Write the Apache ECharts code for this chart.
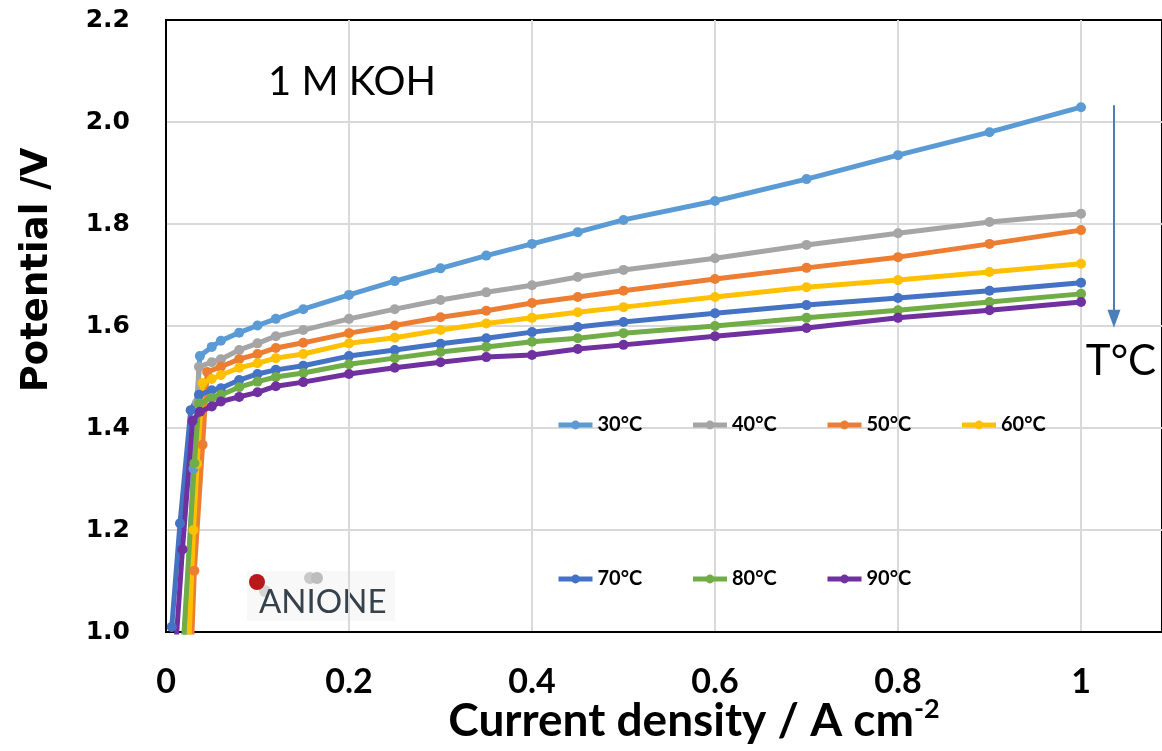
<!DOCTYPE html>
<html><head><meta charset="utf-8">
<script src="https://cdn.jsdelivr.net/npm/echarts@6/dist/echarts.min.js"></script>
<style>html,body{margin:0;padding:0;background:#fff}#c{width:1162px;height:751px}</style>
</head><body><div id="c"></div>
<script>
const seriesNames = ['30°C', '40°C', '50°C', '60°C', '70°C', '80°C', '90°C'];
const seriesColors = ['#5B9BD5', '#A5A5A5', '#ED7D31', '#FFC000', '#4472C4', '#70AD47', '#7030A0'];
const xTicks = ['0', '0.2', '0.4', '0.6', '0.8', '1'];
const yTicks = ['1.0', '1.2', '1.4', '1.6', '1.8', '2.0', '2.2'];

// [current density (A cm-2), potential (V)]
const t30 = [[0.021,0.98],[0.030,1.32],[0.037,1.541],[0.05,1.559],[0.06,1.571],[0.08,1.587],[0.1,1.601],[0.12,1.614],[0.15,1.633],[0.2,1.661],[0.25,1.688],[0.3,1.713],[0.35,1.738],[0.4,1.761],[0.45,1.784],[0.5,1.808],[0.6,1.845],[0.7,1.888],[0.8,1.935],[0.9,1.980],[1.0,2.029]];
const t40 = [[0.022,0.98],[0.034,1.45],[0.036,1.520],[0.05,1.529],[0.06,1.535],[0.08,1.553],[0.1,1.566],[0.12,1.580],[0.15,1.592],[0.2,1.614],[0.25,1.633],[0.3,1.651],[0.35,1.666],[0.4,1.680],[0.45,1.696],[0.5,1.710],[0.6,1.733],[0.7,1.759],[0.8,1.782],[0.9,1.804],[1.0,1.820]];
const t50 = [[0.028,0.98],[0.031,1.12],[0.040,1.367],[0.045,1.510],[0.06,1.520],[0.08,1.535],[0.1,1.545],[0.12,1.557],[0.15,1.567],[0.2,1.586],[0.25,1.601],[0.3,1.617],[0.35,1.630],[0.4,1.645],[0.45,1.657],[0.5,1.669],[0.6,1.692],[0.7,1.714],[0.8,1.735],[0.9,1.761],[1.0,1.788]];
const t60 = [[0.025,0.98],[0.030,1.20],[0.034,1.33],[0.040,1.488],[0.05,1.496],[0.06,1.504],[0.08,1.518],[0.1,1.527],[0.12,1.537],[0.15,1.545],[0.2,1.566],[0.25,1.577],[0.3,1.592],[0.35,1.605],[0.4,1.616],[0.45,1.627],[0.5,1.637],[0.6,1.657],[0.7,1.676],[0.8,1.690],[0.9,1.706],[1.0,1.722]];
const t70 = [[0.0063,1.01],[0.0153,1.213],[0.027,1.435],[0.036,1.465],[0.05,1.474],[0.06,1.478],[0.08,1.494],[0.1,1.506],[0.12,1.514],[0.15,1.522],[0.2,1.541],[0.25,1.553],[0.3,1.565],[0.35,1.576],[0.4,1.588],[0.45,1.598],[0.5,1.608],[0.6,1.625],[0.7,1.641],[0.8,1.655],[0.9,1.669],[1.0,1.685]];
const t80 = [[0.019,0.98],[0.031,1.331],[0.036,1.448],[0.05,1.459],[0.06,1.465],[0.08,1.480],[0.1,1.491],[0.12,1.500],[0.15,1.508],[0.2,1.525],[0.25,1.537],[0.3,1.549],[0.35,1.559],[0.4,1.569],[0.45,1.576],[0.5,1.586],[0.6,1.600],[0.7,1.616],[0.8,1.631],[0.9,1.647],[1.0,1.663]];
const t90 = [[0.011,0.98],[0.018,1.162],[0.029,1.414],[0.037,1.432],[0.05,1.442],[0.06,1.452],[0.08,1.461],[0.1,1.470],[0.12,1.482],[0.15,1.490],[0.2,1.506],[0.25,1.518],[0.3,1.529],[0.35,1.539],[0.4,1.543],[0.45,1.555],[0.5,1.563],[0.6,1.580],[0.7,1.596],[0.8,1.616],[0.9,1.631],[1.0,1.647]];
const allData = [t30, t40, t50, t60, t70, t80, t90];

const chart = echarts.init(document.getElementById('c'), null, {renderer: 'canvas'});

const series = seriesNames.map((name, i) => ({
  name: name,
  type: 'line',
  data: allData[i],
  symbol: 'circle',
  symbolSize: 10,
  showSymbol: true,
  clip: true,
  color: seriesColors[i],
  lineStyle: {width: 5, color: seriesColors[i]},
  itemStyle: {color: seriesColors[i]},
  emphasis: {disabled: true},
  animation: false
}));

series[0].markLine = {
  silent: true,
  symbol: ['none', 'triangle'],
  symbolSize: [13, 18],
  lineStyle: {color: '#4A7EBB', width: 2, type: 'solid'},
  label: {show: false},
  data: [[{coord: [1.036, 2.033]}, {coord: [1.036, 1.614]}]]
};

const legendText = {fontFamily: 'Lato', fontWeight: 'bold', fontSize: 20, color: '#000'};
const legendLefts = [556, 690.5, 825, 959.5];
const legends = seriesNames.map((name, i) => ({
  data: [name],
  left: legendLefts[i % 4],
  top: i < 4 ? 415 : 569,
  padding: 0,
  itemWidth: 34, itemHeight: 11,
  lineStyle: {width: 5},
  textStyle: legendText,
  selectedMode: false
}));

const nearTick = (v, step, base) => {
  const r = (v - base) / step;
  return Math.abs(r - Math.round(r)) < 1e-6 ? Math.round(r) : -1;
};

const option = {
  animation: false,
  grid: {left: 166, top: 20, right: 0, bottom: 119, show: true, borderColor: '#000', borderWidth: 2, containLabel: false},
  xAxis: {
    type: 'value', min: 0, max: 1.0885, interval: 0.2,
    axisLine: {show: true, lineStyle: {color: '#000', width: 2}}, axisTick: {show: false},
    splitLine: {show: true, showMinLine: false, showMaxLine: false, lineStyle: {color: '#D9D9D9', width: 2}},
    axisLabel: {
      showMaxLabel: false, margin: 33,
      fontFamily: 'Lato', fontWeight: 'bold', fontSize: 34, color: '#000',
      formatter: v => { const i = nearTick(v, 0.2, 0); return i >= 0 && xTicks[i] !== undefined ? xTicks[i] : ''; }
    }
  },
  yAxis: {
    type: 'value', min: 1, max: 2.2, interval: 0.2,
    axisLine: {show: true, lineStyle: {color: '#000', width: 2}}, axisTick: {show: false},
    splitLine: {show: true, showMinLine: false, showMaxLine: false, lineStyle: {color: '#D9D9D9', width: 2}},
    axisLabel: {
      margin: 36,
      fontFamily: 'DejaVu Sans', fontWeight: 'bold', fontSize: 25, color: '#000',
      formatter: v => { const i = nearTick(v, 0.2, 1); return i >= 0 && yTicks[i] !== undefined ? yTicks[i] : ''; }
    }
  },
  legend: legends,
  graphic: [
    {type: 'text', x: 37, y: 270, rotation: Math.PI / 2,
     style: {text: 'Potential /V', fontFamily: 'DejaVu Sans', fontWeight: 'bold', fontSize: 37, fill: '#000', align: 'center', verticalAlign: 'middle'}},
    {type: 'text', x: 694, y: 721,
     style: {text: '{a|Current density / A cm}{s|-2}', align: 'center', verticalAlign: 'middle',
       rich: {a: {fontFamily: 'Lato', fontWeight: 'bold', fontSize: 46, fill: '#000', lineHeight: 50},
              s: {fontFamily: 'Lato', fontWeight: 'bold', fontSize: 27, fill: '#000', verticalAlign: 'top', lineHeight: 50, padding: [0, 0, 20, 0]}}}},
    {type: 'text', x: 268, y: 82,
     style: {text: '1 M KOH', fontFamily: 'Lato', fontSize: 40, fill: '#000', align: 'left', verticalAlign: 'middle'}},
    {type: 'text', x: 1121, y: 361,
     style: {text: 'T°C', fontFamily: 'Lato', fontSize: 42, fill: '#000', align: 'center', verticalAlign: 'middle'}},
    {type: 'group', left: 247, top: 571, children: [
      {type: 'rect', shape: {x: 0, y: 0, width: 148, height: 50}, style: {fill: '#F8F8F8'}},
      {type: 'circle', shape: {cx: 63, cy: 7, r: 6}, style: {fill: '#C9C9C9'}},
      {type: 'circle', shape: {cx: 70, cy: 7, r: 6}, style: {fill: '#BDBDBD'}},
      {type: 'circle', shape: {cx: 18, cy: 20, r: 6}, style: {fill: '#D6D6D6'}},
      {type: 'circle', shape: {cx: 10, cy: 11, r: 8}, style: {fill: '#B8171B'}},
      {type: 'text', x: 12, y: 31, style: {text: 'ANIONE', fontFamily: 'Lato', fontSize: 33, fill: '#36424B', align: 'left', verticalAlign: 'middle'}}
    ]}
  ],
  series: series
};
chart.setOption(option);
</script>
</body></html>
